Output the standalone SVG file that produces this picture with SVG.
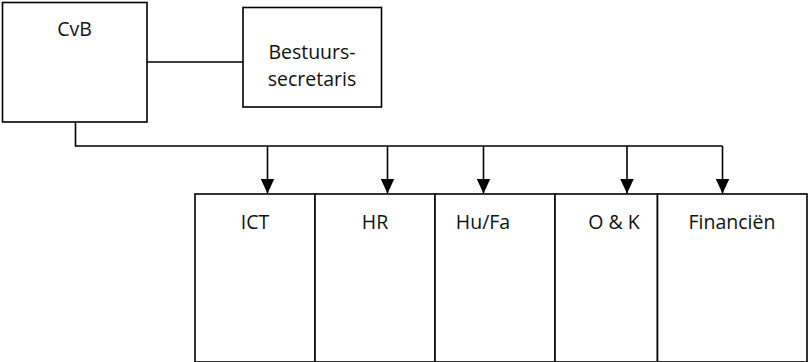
<svg xmlns="http://www.w3.org/2000/svg" width="809" height="362" viewBox="0 0 809 362">
<defs>
<style>
.box{fill:#fff;stroke:#000;stroke-width:1.6}
.lbl{font-family:"Open Sans","Liberation Sans",sans-serif;font-size:19.5px;fill:#111;text-anchor:middle}
.con{fill:none;stroke:#000;stroke-width:1.6}
</style>
<marker id="ah" viewBox="0 0 15 14" refX="15" refY="7" markerWidth="15" markerHeight="14" markerUnits="userSpaceOnUse" orient="auto">
<path d="M0,0 L15,7 L0,14 Z" fill="#000"/>
</marker>
</defs>
<rect width="809" height="362" fill="#fff"/>
<g id="connectors">
<line class="con" x1="147" y1="62" x2="243" y2="62"/>
<polyline class="con" points="75.5,122 75.5,146 722.5,146"/>
<line class="con" x1="267.5" y1="146" x2="267.5" y2="193.5" marker-end="url(#ah)"/>
<line class="con" x1="387.5" y1="146" x2="387.5" y2="193.5" marker-end="url(#ah)"/>
<line class="con" x1="483.5" y1="146" x2="483.5" y2="193.5" marker-end="url(#ah)"/>
<line class="con" x1="627" y1="146" x2="627" y2="193.5" marker-end="url(#ah)"/>
<line class="con" x1="722.5" y1="146" x2="722.5" y2="193.5" marker-end="url(#ah)"/>
</g>
<g id="cvb">
<rect class="box" x="2.5" y="2.5" width="144.5" height="119.5"/>
<text class="lbl" x="74.5" y="36">CvB</text>
</g>
<g id="bestuurssecretaris">
<rect class="box" x="243" y="7.5" width="138.5" height="99.5"/>
<text class="lbl" x="312" y="59">Bestuurs-</text>
<text class="lbl" x="312" y="86">secretaris</text>
</g>
<g id="ict">
<rect class="box" x="195" y="194" width="120" height="168"/>
<text class="lbl" x="255" y="229">ICT</text>
</g>
<g id="hr">
<rect class="box" x="315" y="194" width="120" height="168"/>
<text class="lbl" x="375" y="229">HR</text>
</g>
<g id="hufa">
<rect class="box" x="435" y="194" width="120" height="168"/>
<text class="lbl" x="483" y="229">Hu/Fa</text>
</g>
<g id="ok">
<rect class="box" x="555" y="194" width="102.5" height="168"/>
<text class="lbl" x="614" y="229">O &amp; K</text>
</g>
<g id="financien">
<rect class="box" x="657.5" y="194" width="149.5" height="168"/>
<text class="lbl" x="732" y="229">Financiën</text>
</g>
</svg>
